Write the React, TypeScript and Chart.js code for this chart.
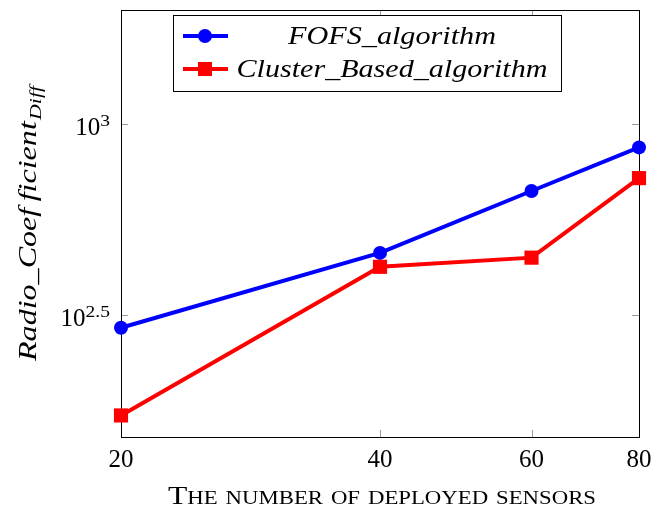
import React, { useEffect, useRef } from 'react';
import { Chart, registerables } from 'chart.js';

Chart.register(...registerables);

// ---- data ----
const xValues = [20, 40, 60, 80];
const fofsValues = [292, 459, 667, 868];
const clusterValues = [172, 422, 446, 721];
const xTickValues = [20, 40, 60, 80];
const xTickLabels = ['20', '40', '60', '80'];
const yTickValues = [316.228, 1000];
const yTickExponents = ['2.5', '3'];
const seriesNames = ['FOFS_algorithm', 'Cluster_Based_algorithm'];
const xTitle = 'The number of deployed sensors';
const yTitleMain = 'Radio_Coef\u2009f\u200Cicient';
const yTitleSub = 'Dif\u200Cf';
const X_MIN = 20;
const X_MAX = 80;
const Y_MIN = 151;
const Y_MAX = 1990;

const BLUE = '#0000ff';
const RED = '#ff0000';
const SERIF = '"Liberation Serif", "DejaVu Serif", serif';

function drawMarker(ctx: CanvasRenderingContext2D, kind: string, x: number, y: number, color: string) {
  ctx.fillStyle = color;
  if (kind === 'circle') {
    ctx.beginPath();
    ctx.arc(x, y, 7, 0, Math.PI * 2);
    ctx.fill();
  } else {
    ctx.fillRect(x - 7, y - 7, 14, 14);
  }
}

// draw text stretched horizontally to a given width, starting at x (left)
function fillFit(ctx: CanvasRenderingContext2D, text: string, x: number, y: number, width: number) {
  const w = ctx.measureText(text).width;
  ctx.save();
  ctx.textAlign = 'left';
  ctx.translate(x, y);
  ctx.scale(width / w, 1);
  ctx.fillText(text, 0, 0);
  ctx.restore();
}

const axisPlugin = {
  id: 'axisPlugin',
  beforeDatasetsDraw(chart: any) {
    const { ctx, chartArea: a, scales } = chart;
    ctx.save();
    const line = (x1: number, y1: number, x2: number, y2: number) => {
      ctx.beginPath();
      ctx.moveTo(x1, y1);
      ctx.lineTo(x2, y2);
      ctx.stroke();
    };
    ctx.strokeStyle = '#9a9a9a';
    ctx.lineWidth = 1;
    const tl = 7;
    yTickValues.forEach((v) => {
      const y = Math.round(scales.y.getPixelForValue(v)) + 0.5;
      line(a.left, y, a.left + tl, y);
      line(a.right - tl, y, a.right, y);
    });
    xTickValues.forEach((v) => {
      const x = Math.round(scales.x.getPixelForValue(v)) + 0.5;
      line(x, a.bottom, x, a.bottom - tl);
      line(x, a.top, x, a.top + tl);
    });
    ctx.strokeStyle = '#000';
    ctx.strokeRect(Math.round(a.left) + 0.5, Math.round(a.top) + 0.5, Math.round(a.right - a.left), Math.round(a.bottom - a.top));

    // tick labels
    ctx.fillStyle = '#000';
    ctx.textBaseline = 'alphabetic';
    xTickValues.forEach((v, i) => {
      const x = scales.x.getPixelForValue(v);
      ctx.font = `25px ${SERIF}`;
      ctx.textAlign = 'center';
      ctx.fillText(xTickLabels[i], x, a.bottom + 30);
    });
    yTickValues.forEach((v, i) => {
      const y = scales.y.getPixelForValue(v);
      ctx.font = `17px ${SERIF}`;
      const ew = ctx.measureText(yTickExponents[i]).width * 1.15;
      ctx.font = `25px ${SERIF}`;
      const bw = ctx.measureText('10').width;
      const right = a.left - 11;
      ctx.textAlign = 'left';
      ctx.fillText('10', right - ew - bw, y + 11);
      ctx.font = `17px ${SERIF}`;
      fillFit(ctx, yTickExponents[i], right - ew, y + 2, ew);
    });

    // x title (small caps), stretched to the reference width
    ctx.font = `small-caps 25px ${SERIF}`;
    try { (ctx as any).fontVariantCaps = 'small-caps'; } catch (e) {}
    const cx = (a.left + a.right) / 2 + 2;
    fillFit(ctx, xTitle, cx - 214, a.bottom + 67, 428);
    try { (ctx as any).fontVariantCaps = 'normal'; } catch (e) {}

    // y title rotated
    ctx.save();
    ctx.translate(36, (a.top + a.bottom) / 2);
    ctx.rotate(-Math.PI / 2);
    ctx.font = `italic 25px ${SERIF}`;
    const mw = ctx.measureText(yTitleMain).width;
    ctx.font = `italic 17px ${SERIF}`;
    const sw = ctx.measureText(yTitleSub).width;
    const total = 275;
    const k = total / (mw + sw + 1);
    const start = -total / 2;
    ctx.font = `italic 25px ${SERIF}`;
    fillFit(ctx, yTitleMain, start, 0, mw * k);
    ctx.font = `italic 17px ${SERIF}`;
    fillFit(ctx, yTitleSub, start + (mw + 1) * k, 5, sw * k);
    ctx.restore();

    ctx.restore();
  },
  afterDraw(chart: any) {
    const { ctx, chartArea: a } = chart;
    ctx.save();
    const left = Math.round(a.left) + 52;
    const top = Math.round(a.top) + 5;
    const w = 388;
    const h = 76;
    ctx.fillStyle = '#fff';
    ctx.fillRect(left, top, w, h);
    ctx.strokeStyle = '#000';
    ctx.lineWidth = 1;
    ctx.strokeRect(left + 0.5, top + 0.5, w, h);
    const rows = [
      { y: top + 21, color: BLUE, kind: 'circle', width: 208 },
      { y: top + 54, color: RED, kind: 'rect', width: 311 },
    ];
    rows.forEach((r, i) => {
      ctx.strokeStyle = r.color;
      ctx.lineWidth = 4;
      ctx.beginPath();
      ctx.moveTo(left + 10, r.y);
      ctx.lineTo(left + 55, r.y);
      ctx.stroke();
      drawMarker(ctx, r.kind, left + 32, r.y, r.color);
      ctx.fillStyle = '#000';
      ctx.font = `italic 25px ${SERIF}`;
      ctx.textBaseline = 'alphabetic';
      fillFit(ctx, seriesNames[i], left + 219 - r.width / 2, r.y + 8, r.width);
    });
    ctx.restore();
  },
};

export default function App() {
  const ref = useRef<HTMLCanvasElement | null>(null);
  useEffect(() => {
    if (!ref.current) return;
    const chart = new Chart(ref.current, {
      type: 'line',
      data: {
        datasets: [
          {
            label: seriesNames[0],
            data: xValues.map((x, i) => ({ x, y: fofsValues[i] })),
            borderColor: BLUE,
            backgroundColor: BLUE,
            borderWidth: 4,
            pointStyle: 'circle',
            pointRadius: 7,
            pointBorderWidth: 0,
            pointBackgroundColor: BLUE,
            clip: false as any,
            order: 2,
            tension: 0,
          },
          {
            label: seriesNames[1],
            data: xValues.map((x, i) => ({ x, y: clusterValues[i] })),
            borderColor: RED,
            backgroundColor: RED,
            borderWidth: 4,
            pointStyle: 'rect',
            pointRadius: 10,
            pointBorderWidth: 0,
            pointBackgroundColor: RED,
            clip: false as any,
            order: 1,
            tension: 0,
          },
        ],
      },
      options: {
        animation: false,
        responsive: false,
        maintainAspectRatio: false,
        devicePixelRatio: 1,
        layout: { padding: { left: 121, right: 26, top: 8, bottom: 73 } },
        plugins: { legend: { display: false }, tooltip: { enabled: false } },
        scales: {
          x: { type: 'logarithmic', min: X_MIN, max: X_MAX, display: false },
          y: { type: 'logarithmic', min: Y_MIN, max: Y_MAX, display: false },
        },
      },
      plugins: [axisPlugin],
    });
    return () => chart.destroy();
  }, []);
  return (
    <div style={{ position: 'fixed', left: 0, top: 0, width: 665, height: 510, background: '#fff' }}>
      <canvas ref={ref} width={665} height={510} style={{ display: 'block' }} />
    </div>
  );
}
